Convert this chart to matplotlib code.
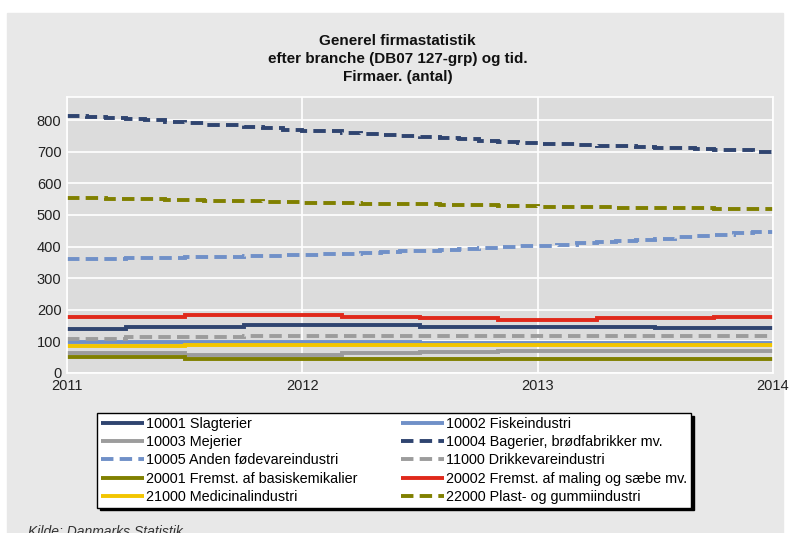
import numpy as np
import matplotlib
matplotlib.use('Agg')
import matplotlib.pyplot as plt
from matplotlib.patches import Rectangle

plt.rcParams['font.family'] = ['Liberation Sans', 'DejaVu Sans']

# monthly values 2011M01 - 2013M12
slagterier = [140] * 3 + [146] * 6 + [151] * 9 + [146] * 12 + [142] * 6
fiskeindustri = [99] * 6 + [97] * 12 + [94] * 18
mejerier = [64] * 6 + [57] * 8 + [64] * 4 + [66] * 4 + [70] * 14
bagerier = [813, 810, 807, 802, 799, 794, 791, 786, 783, 778, 775, 770,
            766, 764, 760, 757, 753, 750, 747, 743, 740, 735, 732, 728,
            725, 724, 721, 719, 717, 716, 713, 711, 709, 706, 704, 700]
anden_foede = [361, 361, 362, 363, 364, 365, 366, 367, 368, 369, 371, 372,
               373, 375, 377, 380, 382, 385, 387, 390, 393, 395, 398, 401,
               403, 406, 410, 413, 417, 421, 425, 429, 433, 438, 442, 447]
drikkevare = [107] * 3 + [113] * 6 + [118] * 27
basiskemi = [50] * 6 + [45] * 30
maling = [178] * 6 + [183] * 8 + [176] * 4 + [173] * 4 + [168] * 5 + [173] * 6 + [178] * 3
medicinal = [84] * 6 + [89] * 30
plast = [555, 553, 551, 550, 549, 548, 546, 545, 544, 543, 541, 540,
         539, 538, 537, 536, 535, 534, 533, 532, 531, 530, 529, 527,
         526, 525, 525, 524, 523, 523, 522, 521, 521, 520, 519, 518]

labels = ['10001 Slagterier', '10002 Fiskeindustri', '10003 Mejerier',
          '10004 Bagerier, brødfabrikker mv.', '10005 Anden fødevareindustri',
          '11000 Drikkevareindustri', '20001 Fremst. af basiskemikalier',
          '20002 Fremst. af maling og sæbe mv.', '21000 Medicinalindustri',
          '22000 Plast- og gummiindustri']
series = [slagterier, fiskeindustri, mejerier, bagerier, anden_foede,
          drikkevare, basiskemi, maling, medicinal, plast]
colors = ['#2F4470', '#7090C8', '#9C9C9C', '#2F4470', '#7090C8',
          '#9C9C9C', '#808000', '#E0291B', '#F2C500', '#808000']
dashed = [False, False, False, True, True, True, False, False, False, True]

edges = 2011 + np.arange(37) / 12

fig = plt.figure(figsize=(7.95, 5.33), dpi=100)
fig.patches.append(Rectangle((7 / 795, 0), 776 / 795, 1 - 13 / 533,
                             transform=fig.transFigure, color='#E8E8E8', zorder=-10))

ax = fig.add_axes([67 / 795, 160 / 533, 706 / 795, 276 / 533])
ax.set_facecolor('#DCDCDC')

handles = []
for vals, lab, c, d in zip(series, labels, colors, dashed):
    ls = (0, (3.2, 1.6)) if d else '-'
    ax.stairs(vals, edges, baseline=None, color=c, linewidth=2.8, linestyle=ls)
    h, = ax.plot([], [], color=c, linewidth=2.8, linestyle=ls, label=lab,
                 solid_capstyle='butt', dash_capstyle='butt')
    handles.append(h)

ax.set_xlim(2011, 2014)
ax.set_ylim(0, 873)
ax.set_xticks([2011, 2012, 2013, 2014])
ax.set_yticks(range(0, 900, 100))
ax.grid(True, color='white', linewidth=1.2)
ax.set_axisbelow(True)
for s in ax.spines.values():
    s.set_color('white')
    s.set_linewidth(1.2)
ax.tick_params(length=0, labelsize=10.5, colors='#222222', pad=4)

fig.text(0.5, 1 - 59 / 533, 'Generel firmastatistik\nefter branche (DB07 127-grp) og tid.\nFirmaer. (antal)',
         ha='center', va='center', fontsize=11, fontweight='bold', linespacing=1.38, color='#111111')

order = [0, 2, 4, 6, 8, 1, 3, 5, 7, 9]
leg = fig.legend([handles[i] for i in order], [labels[i] for i in order],
                 loc='upper left', bbox_to_anchor=(97 / 795, 120 / 533),
                 ncol=2, fontsize=10.4, frameon=True, fancybox=False,
                 edgecolor='black', facecolor='white', framealpha=1,
                 shadow={'color': 'black', 'alpha': 1}, handlelength=3.0,
                 handletextpad=0.15, labelspacing=0.3, borderpad=0.25,
                 columnspacing=3.0, borderaxespad=0)
leg.get_frame().set_linewidth(1.0)

fig.text(28 / 795, 8 / 533, 'Kilde: Danmarks Statistik', fontsize=10, style='italic',
         color='#333333', ha='left', va='top')

fig.savefig('out.png', dpi=100)
